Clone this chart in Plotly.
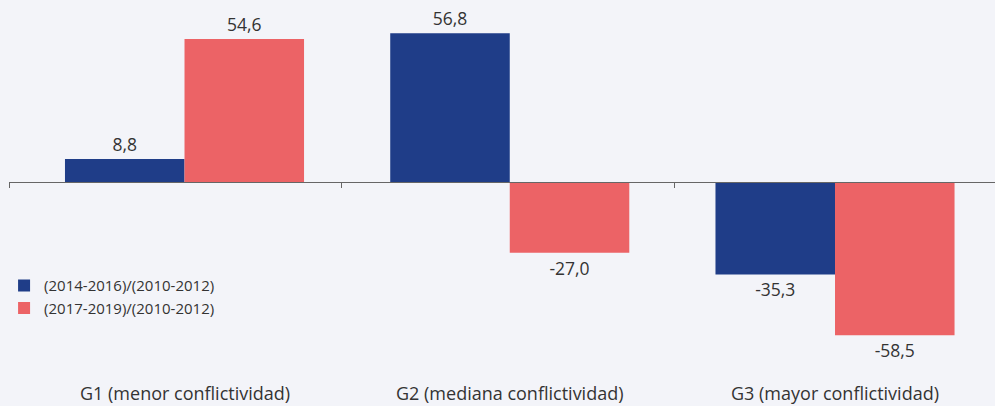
import plotly.graph_objects as go

categories = ["G1 (menor conflictividad)", "G2 (mediana conflictividad)", "G3 (mayor conflictividad)"]
series_names = ["(2014-2016)/(2010-2012)", "(2017-2019)/(2010-2012)"]
values_a = [8.8, 56.8, -35.3]
values_b = [54.6, -27.0, -58.5]
colors = ["#1f3d88", "#ec6366"]

def fmt(v):
    return f"{v:.1f}".replace(".", ",")

xpos = list(range(len(categories)))

fig = go.Figure()
for name, vals, col in zip(series_names, [values_a, values_b], colors):
    fig.add_trace(go.Bar(
        x=xpos, y=vals, name=name, marker=dict(color=col, line=dict(width=0)),
        text=[fmt(v) for v in vals], textposition="outside",
        textfont=dict(size=17.5, color="#333333", family="Open Sans"),
        cliponaxis=False,
    ))

W, H = 995, 406
ml, mr, mt, mb = 9, 0, 0, 36
plot_h = H - mt - mb
zero_px = 182
scale = 2.62
y_top = (zero_px - mt) / scale
y_bot = -(plot_h - (zero_px - mt)) / scale

fig.update_layout(
    width=W, height=H,
    margin=dict(l=ml, r=mr, t=mt, b=mb),
    paper_bgcolor="#f3f4f9", plot_bgcolor="#f3f4f9",
    barmode="group", bargap=0.265, bargroupgap=0,
    separators=",.",
    font=dict(family="Open Sans", size=16, color="#333333"),
    showlegend=True,
    legend=dict(x=-0.005, y=0.272, xanchor="left", yanchor="top",
                bgcolor="rgba(0,0,0,0)", font=dict(size=15, color="#333333"),
                tracegroupgap=0, itemwidth=30),
    xaxis=dict(range=[-0.5396, 2.4919], anchor="free",
               position=(plot_h - (zero_px - mt)) / plot_h,
               showline=True, linecolor="#666666", linewidth=1,
               ticks="outside", ticklen=5, tickwidth=1, tickcolor="#666666",
               tickvals=[-0.5386, 0.484, 1.505], showticklabels=False,
               showgrid=False, zeroline=False),
    yaxis=dict(range=[y_bot, y_top], visible=False, showgrid=False, zeroline=False),
)

for i, c in enumerate(categories):
    fig.add_annotation(x=i, xref="x", y=0, yref="paper", yanchor="top",
                       yshift=-9, text=c, showarrow=False,
                       font=dict(size=18, color="#333333"))

fig.write_html("out.html")
